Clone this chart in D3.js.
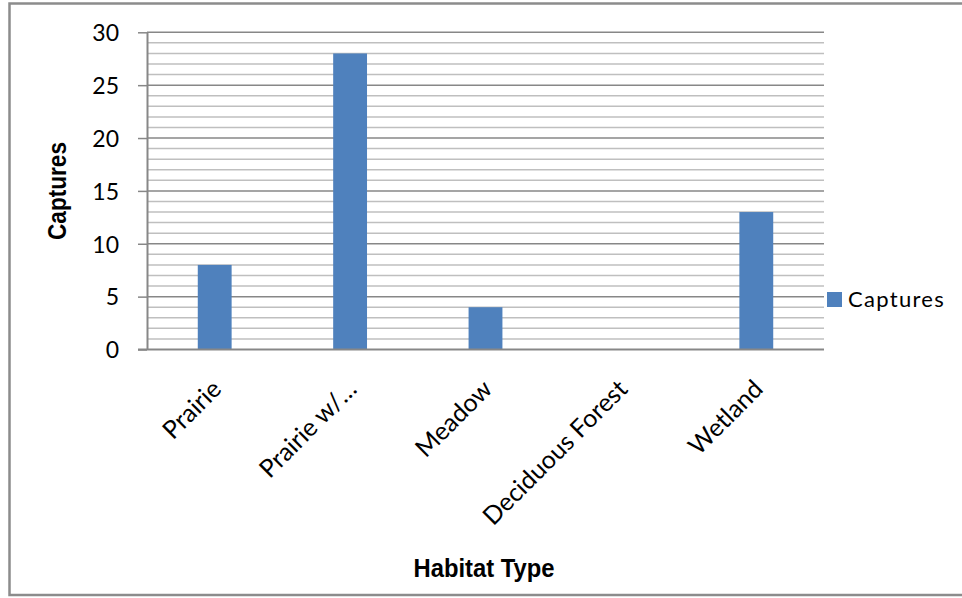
<!DOCTYPE html>
<html>
<head>
<meta charset="utf-8">
<script src="https://cdn.jsdelivr.net/npm/d3@7"></script>
<style>
  body { margin: 0; background: #fff; }
  svg { display: block; }
</style>
</head>
<body>
<svg id="chart" width="962" height="598"></svg>
<script>
// Captures per habitat type
const categories = ["Prairie", "Prairie w/…", "Meadow", "Deciduous Forest", "Wetland"];
const captures = [8, 28, 4, 0, 13];
const yTicks = [0, 5, 10, 15, 20, 25, 30];
const minorStep = 1;
const seriesName = "Captures";
const xTitle = "Habitat Type";
const yTitle = "Captures";

const svg = d3.select("#chart");
const W = 962, H = 598;
const plot = { left: 147, right: 824, top: 32.3, bottom: 349.5 };

const regularFont = "Lato, 'Open Sans', sans-serif";
const boldFont = "'Liberation Sans Narrow', 'Arial Narrow', 'Liberation Sans', sans-serif";

// outer chart frame
svg.append("rect")
  .attr("x", 9.5).attr("y", 3.5)
  .attr("width", W + 10).attr("height", 591.5)
  .attr("fill", "#fff")
  .attr("stroke", "#8c8c8c").attr("stroke-width", 2.5);

const x = d3.scaleBand()
  .domain(categories)
  .range([plot.left, plot.right])
  .paddingInner(0.75)
  .paddingOuter(0.375);

const y = d3.scaleLinear()
  .domain([0, 30])
  .range([plot.bottom, plot.top]);

// minor and major horizontal gridlines
const minorVals = d3.range(minorStep, 30, minorStep).filter(v => v % 5 !== 0);
svg.append("g").selectAll("line").data(minorVals).join("line")
  .attr("x1", plot.left).attr("x2", plot.right)
  .attr("y1", d => y(d)).attr("y2", d => y(d))
  .attr("stroke", "#bfbfbf").attr("stroke-width", 1.5);

svg.append("g").selectAll("line").data(yTicks.filter(v => v > 0)).join("line")
  .attr("x1", plot.left).attr("x2", plot.right)
  .attr("y1", d => y(d)).attr("y2", d => y(d))
  .attr("stroke", "#878787").attr("stroke-width", 1.5);

// bars
svg.append("g").selectAll("rect").data(captures).join("rect")
  .attr("x", (d, i) => x(categories[i]))
  .attr("width", x.bandwidth())
  .attr("y", d => y(d))
  .attr("height", d => y(0) - y(d))
  .attr("fill", "#4f81bd");

// y axis
const yAxis = svg.append("g")
  .attr("transform", `translate(${plot.left},0)`)
  .call(d3.axisLeft(y).tickValues(yTicks).tickSize(9).tickPadding(19).tickSizeOuter(0));
yAxis.select(".domain").attr("stroke", "#878787").attr("stroke-width", 2);
yAxis.selectAll(".tick line").attr("stroke", "#878787").attr("stroke-width", 1.5);
yAxis.selectAll(".tick text")
  .attr("font-family", regularFont).attr("font-size", 23).attr("fill", "#000")
  .attr("dy", "0.36em");

// x axis with slanted category labels
const xAxis = svg.append("g")
  .attr("transform", `translate(0,${plot.bottom})`)
  .call(d3.axisBottom(x).tickSize(0).tickSizeOuter(0));
xAxis.select(".domain").attr("stroke", "#878787").attr("stroke-width", 2)
  .attr("d", `M${plot.left - 9},0H${plot.right}`);
xAxis.selectAll(".tick text")
  .attr("font-family", regularFont).attr("font-size", 25).attr("fill", "#000")
  .attr("x", 0).attr("y", 0).attr("dy", "0.35em")
  .attr("text-anchor", "end")
  .attr("transform", "translate(2,35) rotate(-45)");

// axis titles (condensed bold)
svg.append("text")
  .attr("x", 484).attr("y", 577)
  .attr("text-anchor", "middle")
  .attr("font-family", boldFont).attr("font-weight", "bold").attr("font-size", 26)
  .attr("textLength", 141).attr("lengthAdjust", "spacingAndGlyphs")
  .text(xTitle);

svg.append("text")
  .attr("transform", "translate(66,191) rotate(-90)")
  .attr("text-anchor", "middle")
  .attr("font-family", boldFont).attr("font-weight", "bold").attr("font-size", 26)
  .attr("textLength", 98).attr("lengthAdjust", "spacingAndGlyphs")
  .text(yTitle);

// legend
const legend = svg.append("g").attr("transform", "translate(827,292)");
legend.append("rect").attr("width", 15).attr("height", 15).attr("fill", "#4f81bd");
legend.append("text")
  .attr("x", 21).attr("y", 15)
  .attr("font-family", regularFont).attr("font-size", 22).attr("letter-spacing", 1.3)
  .text(seriesName);
</script>
</body>
</html>
